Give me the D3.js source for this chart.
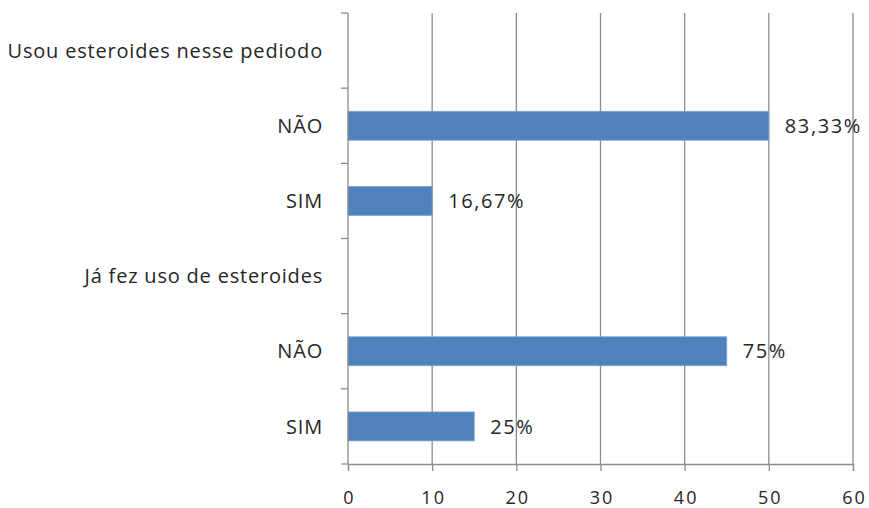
<!DOCTYPE html>
<html>
<head>
<meta charset="utf-8">
<script src="https://cdn.jsdelivr.net/npm/d3@7"></script>
<style>
  html, body { margin: 0; padding: 0; background: #fff; }
  svg { display: block; }
  text { font-family: "Open Sans", "Noto Sans", sans-serif; fill: #262626; }
</style>
</head>
<body>
<svg id="chart" width="869" height="508"></svg>
<script>
// Category rows, top to bottom (group headers carry no bar)
const categories = [
  "Usou esteroides nesse pediodo",
  "NÃO",
  "SIM",
  "Já fez uso de esteroides",
  "NÃO",
  "SIM"
];
const values = [null, 50, 10, null, 45, 15];
const valueLabels = [null, "83,33%", "16,67%", null, "75%", "25%"];
const xTicks = [0, 10, 20, 30, 40, 50, 60];

const width = 869, height = 508;
const margin = { top: 13, right: 16, bottom: 44, left: 348 };
const svg = d3.select("#chart");

const rows = categories.map((c, i) => ({ key: i, label: c, value: values[i], text: valueLabels[i] }));

const x = d3.scaleLinear().domain([0, 60]).range([margin.left, width - margin.right]);
const y = d3.scaleBand()
  .domain(rows.map(d => d.key))
  .range([margin.top, height - margin.bottom])
  .paddingInner(0.615).paddingOuter(0.3075);

const gridColor = "#8c8c8c";

// vertical gridlines
svg.append("g")
  .selectAll("line")
  .data(xTicks.filter(t => t > 0))
  .join("line")
  .attr("x1", d => x(d)).attr("x2", d => x(d))
  .attr("y1", margin.top).attr("y2", height - margin.bottom)
  .attr("stroke", gridColor).attr("stroke-width", 1.3);

// bars
svg.append("g")
  .selectAll("rect")
  .data(rows.filter(d => d.value != null))
  .join("rect")
  .attr("x", x(0))
  .attr("y", d => y(d.key))
  .attr("width", d => x(d.value) - x(0))
  .attr("height", y.bandwidth())
  .attr("fill", "#4f81bd")
  .attr("stroke", "#7ea4d3")
  .attr("stroke-width", 0.8);

// value labels
svg.append("g")
  .selectAll("text")
  .data(rows.filter(d => d.value != null))
  .join("text")
  .attr("x", d => x(d.value) + 16)
  .attr("y", d => y(d.key) + y.bandwidth() / 2)
  .attr("dy", "0.36em")
  .style("font-size", "20px")
  .style("letter-spacing", "1.6px")
  .text(d => d.text);

// bottom axis
const xAxis = d3.axisBottom(x).tickValues(xTicks).tickSize(7).tickPadding(20).tickFormat(d3.format("d"));
const gx = svg.append("g")
  .attr("transform", `translate(0,${height - margin.bottom})`)
  .call(xAxis);
gx.select(".domain").attr("stroke", gridColor).attr("stroke-width", 1.3);
gx.selectAll(".tick line").attr("stroke", gridColor).attr("stroke-width", 1.3);
gx.selectAll(".tick text")
  .style("font-size", "18px")
  .style("letter-spacing", "2px")
  .attr("dx", "1px")
  .attr("fill", "#262626");

// left axis: ticks sit on band boundaries
const gy = svg.append("g").attr("transform", `translate(${x(0)},0)`);
const step = y.step();
const bounds = d3.range(categories.length + 1).map(i => margin.top + i * step);
gy.append("line")
  .attr("x1", 0).attr("x2", 0)
  .attr("y1", margin.top).attr("y2", height - margin.bottom)
  .attr("stroke", gridColor).attr("stroke-width", 1.3);
gy.selectAll("line.tk")
  .data(bounds)
  .join("line")
  .attr("class", "tk")
  .attr("x1", -7).attr("x2", 0)
  .attr("y1", d => d).attr("y2", d => d)
  .attr("stroke", gridColor).attr("stroke-width", 1.3);
gy.selectAll("text")
  .data(rows)
  .join("text")
  .attr("x", -25)
  .attr("y", d => y(d.key) + y.bandwidth() / 2)
  .attr("dy", "0.36em")
  .attr("text-anchor", "end")
  .style("font-size", "20px")
  .style("letter-spacing", "0.8px")
  .text(d => d.label);
</script>
</body>
</html>
